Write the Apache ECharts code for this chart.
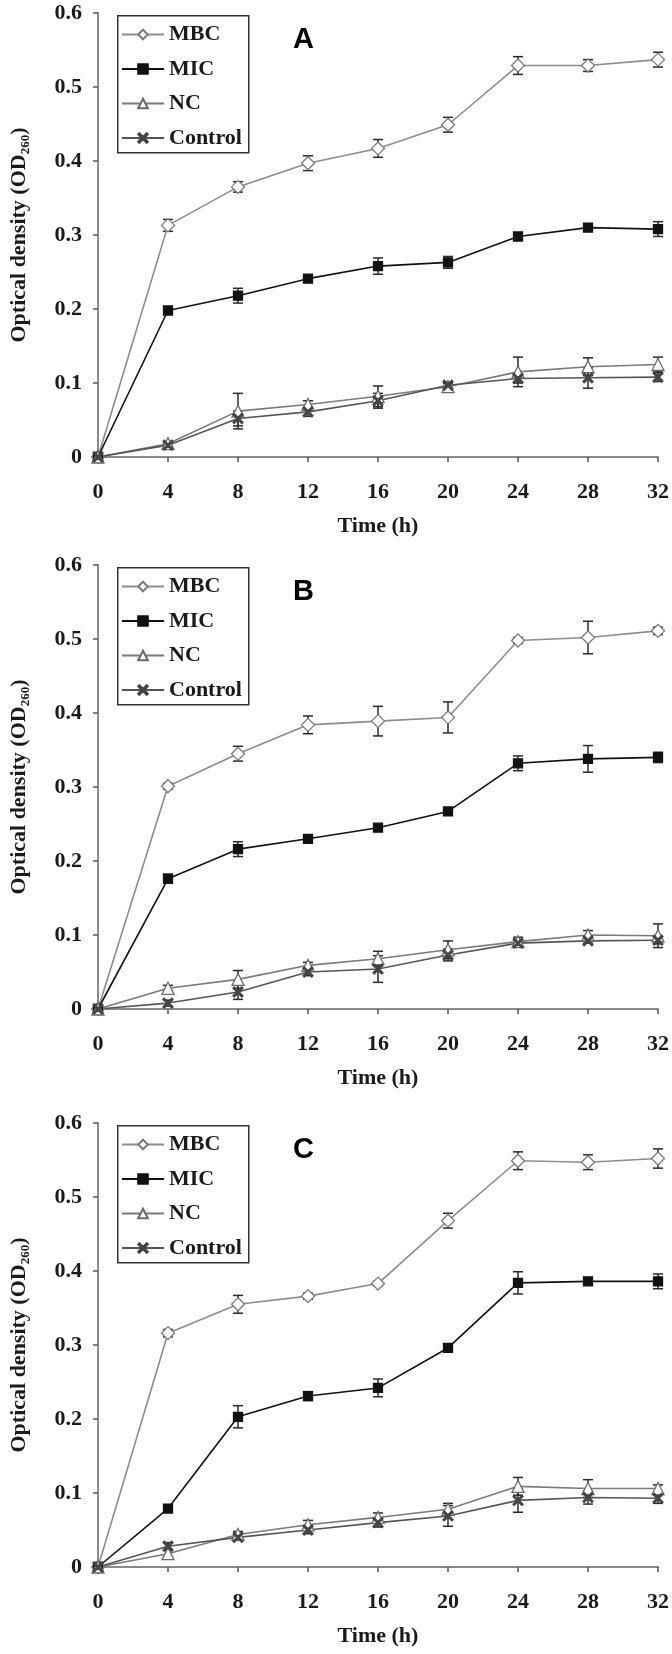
<!DOCTYPE html>
<html>
<head>
<meta charset="utf-8">
<script src="https://cdn.jsdelivr.net/npm/echarts@6/dist/echarts.min.js"></script>
<style>
html,body{margin:0;padding:0;background:#fff;}
#chart{width:672px;height:1654px;}
</style>
</head>
<body>
<div id="chart"></div>
<script>
// ---- data ----
const times = [0, 4, 8, 12, 16, 20, 24, 28, 32];
const yTicks = [0, 0.1, 0.2, 0.3, 0.4, 0.5, 0.6];
const seriesNames = ['MBC', 'MIC', 'NC', 'Control'];
const panelLabels = ['A', 'B', 'C'];

// Panel A
const mbcA = [0, 0.313, 0.365, 0.397, 0.417, 0.449, 0.529, 0.529, 0.537];
const mbcErrA = [0, 0.008, 0.007, 0.010, 0.012, 0.010, 0.012, 0.008, 0.010];
const micA = [0, 0.198, 0.218, 0.241, 0.258, 0.263, 0.298, 0.310, 0.308];
const micErrA = [0, 0.004, 0.010, 0.004, 0.011, 0.008, 0.004, 0.005, 0.010];
const ncA = [0, 0.018, 0.062, 0.071, 0.082, 0.095, 0.115, 0.122, 0.125];
const ncErrA = [0, 0.003, 0.024, 0.005, 0.014, 0.004, 0.020, 0.012, 0.010];
const ctrlA = [0, 0.016, 0.052, 0.061, 0.076, 0.097, 0.106, 0.107, 0.108];
const ctrlErrA = [0, 0.003, 0.010, 0.006, 0.010, 0.004, 0.006, 0.014, 0.006];

// Panel B
const mbcB = [0, 0.301, 0.345, 0.384, 0.389, 0.394, 0.498, 0.502, 0.511];
const mbcErrB = [0, 0.004, 0.010, 0.012, 0.020, 0.021, 0.004, 0.022, 0.005];
const micB = [0, 0.176, 0.216, 0.230, 0.245, 0.267, 0.332, 0.338, 0.340];
const micErrB = [0, 0.006, 0.010, 0.005, 0.004, 0.004, 0.010, 0.018, 0.007];
const ncB = [0, 0.028, 0.040, 0.059, 0.068, 0.080, 0.091, 0.100, 0.099];
const ncErrB = [0, 0.004, 0.012, 0.004, 0.010, 0.012, 0.006, 0.006, 0.016];
const ctrlB = [0, 0.008, 0.023, 0.050, 0.054, 0.073, 0.089, 0.092, 0.093];
const ctrlErrB = [0, 0.004, 0.010, 0.005, 0.018, 0.008, 0.004, 0.003, 0.005];

// Panel C
const mbcC = [0, 0.316, 0.355, 0.366, 0.383, 0.468, 0.549, 0.547, 0.552];
const mbcErrC = [0, 0.005, 0.012, 0.004, 0.003, 0.010, 0.012, 0.010, 0.013];
const micC = [0, 0.079, 0.203, 0.231, 0.242, 0.296, 0.384, 0.386, 0.386];
const micErrC = [0, 0.004, 0.015, 0.006, 0.012, 0.005, 0.015, 0.003, 0.010];
const ncC = [0, 0.018, 0.044, 0.057, 0.067, 0.078, 0.109, 0.106, 0.106];
const ncErrC = [0, 0.005, 0.004, 0.006, 0.006, 0.008, 0.012, 0.012, 0.005];
const ctrlC = [0, 0.028, 0.040, 0.050, 0.060, 0.069, 0.090, 0.094, 0.093];
const ctrlErrC = [0, 0.005, 0.004, 0.005, 0.006, 0.014, 0.016, 0.009, 0.007];

const panels = [
  [[mbcA, mbcErrA], [micA, micErrA], [ncA, ncErrA], [ctrlA, ctrlErrA]],
  [[mbcB, mbcErrB], [micB, micErrB], [ncB, ncErrB], [ctrlB, ctrlErrB]],
  [[mbcC, mbcErrC], [micC, micErrC], [ncC, ncErrC], [ctrlC, ctrlErrC]]
];

// ---- layout / style ----
const gridTops = [13, 565, 1123];
const gridH = 444;
const gridLeft = 94;
const gridW = 564;
const FONT = '"Liberation Serif", "Times New Roman", serif';
const axisGray = '#8a8a8a';

const styles = [
  { symbol: 'diamond', size: 13, line: '#8c8c8c', fill: '#ffffff', border: '#7a7a7a' },
  { symbol: 'rect', size: 9, line: '#111111', fill: '#111111', border: '#111111' },
  { symbol: 'triangle', size: 12, line: '#7a7a7a', fill: '#ffffff', border: '#6a6a6a' },
  { symbol: 'path://M0,1.2L1.2,0L5,3.8L8.8,0L10,1.2L6.2,5L10,8.8L8.8,10L5,6.2L1.2,10L0,8.8L3.8,5Z',
    size: 10, line: '#555555', fill: '#444444', border: '#444444' }
];

const grids = [], xAxes = [], yAxes = [], series = [], legends = [], graphics = [];

panels.forEach((panel, p) => {
  grids.push({ left: gridLeft, top: gridTops[p], width: gridW, height: gridH, containLabel: false });
  xAxes.push({
    type: 'value', gridIndex: p, min: 0, max: 32, interval: 4,
    splitLine: { show: false },
    axisLine: { show: true, onZero: false, lineStyle: { color: axisGray, width: 2 } },
    axisTick: { show: true, inside: false, length: 5, lineStyle: { color: '#555', width: 1.5 } },
    axisLabel: { margin: 24, fontFamily: FONT, fontWeight: 'bold', fontSize: 22, color: '#1a1a1a' },
    name: 'Time (h)', nameLocation: 'middle', nameGap: 58,
    nameTextStyle: { fontFamily: FONT, fontWeight: 'bold', fontSize: 22, color: '#1a1a1a' }
  });
  yAxes.push({
    type: 'value', gridIndex: p, min: 0, max: 0.6, interval: 0.1,
    splitLine: { show: false },
    axisLine: { show: true, onZero: false, lineStyle: { color: axisGray, width: 2 } },
    axisTick: { show: true, inside: false, length: 5, lineStyle: { color: '#555', width: 1.5 } },
    axisLabel: {
      margin: 16, fontFamily: FONT, fontWeight: 'bold', fontSize: 22, color: '#1a1a1a',
      formatter: v => {
        const idx = yTicks.findIndex(t => Math.abs(t - v) < 1e-9);
        return idx >= 0 ? String(yTicks[idx]) : '';
      }
    },
    name: '{a|Optical density (OD}{s|260}{a|)}',
    nameLocation: 'middle', nameGap: 66, nameRotate: 90,
    nameTextStyle: {
      rich: {
        a: { fontFamily: FONT, fontWeight: 'bold', fontSize: 22, color: '#1a1a1a', lineHeight: 26 },
        s: { fontFamily: FONT, fontWeight: 'bold', fontSize: 13, color: '#1a1a1a', lineHeight: 13, verticalAlign: 'bottom' }
      }
    }
  });

  panel.forEach(([vals, errs], s) => {
    const st = styles[s];
    // error bars
    series.push({
      type: 'custom', xAxisIndex: p, yAxisIndex: p, z: 1, silent: true,
      data: times.map((t, i) => [t, vals[i] - errs[i], vals[i] + errs[i]]),
      renderItem: (params, api) => {
        const x = api.value(0), lo = api.value(1), hi = api.value(2);
        if (hi - lo < 1e-9) return null;
        const a = api.coord([x, lo]), b = api.coord([x, hi]);
        const cw = 5;
        const ls = { stroke: '#2a2a2a', lineWidth: 1.5 };
        return {
          type: 'group', children: [
            { type: 'line', shape: { x1: a[0], y1: a[1], x2: b[0], y2: b[1] }, style: ls },
            { type: 'line', shape: { x1: a[0] - cw, y1: a[1], x2: a[0] + cw, y2: a[1] }, style: ls },
            { type: 'line', shape: { x1: b[0] - cw, y1: b[1], x2: b[0] + cw, y2: b[1] }, style: ls }
          ]
        };
      }
    });
    series.push({
      name: seriesNames[s], type: 'line', xAxisIndex: p, yAxisIndex: p, z: 3,
      data: times.map((t, i) => [t, vals[i]]),
      symbol: st.symbol, symbolSize: st.size, showAllSymbol: true,
      lineStyle: { color: st.line, width: 1.6 },
      itemStyle: { color: st.fill, borderColor: st.border, borderWidth: 1.3 },
      emphasis: { disabled: true },
      animation: false
    });
  });

  // legend box drawn as a rectangle, legend items inside it
  graphics.push({
    type: 'rect', left: 117, top: gridTops[p] + 2, z: 10, silent: true,
    shape: { width: 131, height: 137 },
    style: { fill: 'rgba(255,255,255,0)', stroke: '#333', lineWidth: 1.5 }
  });
  legends.push({
    orient: 'vertical', left: 121, top: gridTops[p] + 9,
    data: seriesNames,
    selectedMode: false,
    itemWidth: 42, itemHeight: 12, itemGap: 9.5,
    padding: 0,
    textStyle: { fontFamily: FONT, fontWeight: 'bold', fontSize: 22, color: '#1a1a1a', lineHeight: 25 }
  });

  graphics.push({
    type: 'text', left: 293, top: gridTops[p] + 12,
    style: { text: panelLabels[p], font: 'bold 29px "Liberation Sans"', fill: '#000' }
  });
});

const chart = echarts.init(document.getElementById('chart'), null, { renderer: 'canvas' });
chart.setOption({
  animation: false,
  backgroundColor: '#ffffff',
  textStyle: { fontFamily: FONT },
  grid: grids, xAxis: xAxes, yAxis: yAxes, series: series, legend: legends, graphic: graphics
});
</script>
</body>
</html>
